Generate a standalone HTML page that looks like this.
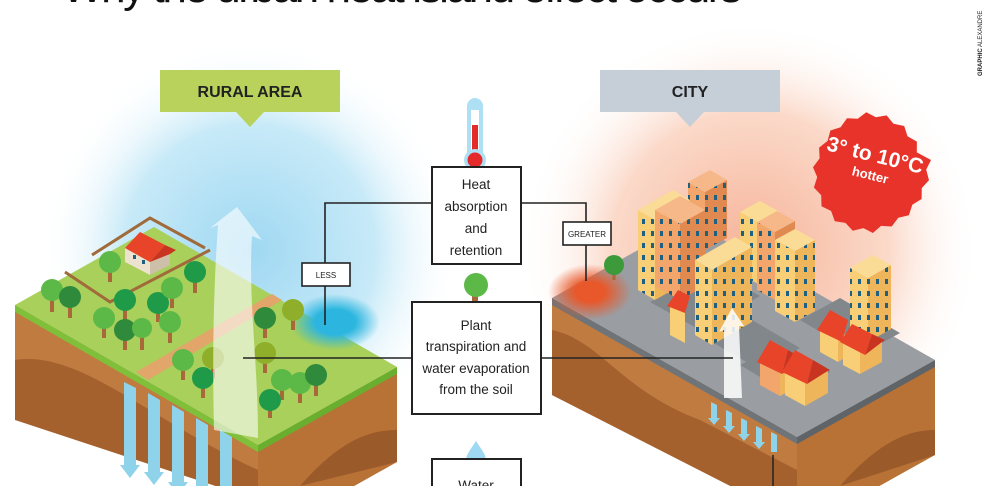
<!DOCTYPE html>
<html><head><meta charset="utf-8"><style>
html,body{margin:0;padding:0;background:#fff;width:994px;height:486px;overflow:hidden}
svg{display:block;overflow:hidden}
text{font-family:"Liberation Sans",sans-serif}
</style></head><body>
<svg width="994" height="486" viewBox="0 0 994 486" xmlns="http://www.w3.org/2000/svg">
<defs>
<clipPath id="frame"><rect x="0" y="0" width="994" height="486"/></clipPath>
<radialGradient id="gb" cx="250" cy="250" r="210" gradientUnits="userSpaceOnUse">
<stop offset="0" stop-color="#9fd8f2"/><stop offset="0.6" stop-color="#c8eaf8"/><stop offset="1" stop-color="#fff" stop-opacity="0"/></radialGradient>
<radialGradient id="go" cx="750" cy="250" r="230" gradientUnits="userSpaceOnUse">
<stop offset="0" stop-color="#f6b49a"/><stop offset="0.6" stop-color="#fbd9c9"/><stop offset="1" stop-color="#fff" stop-opacity="0"/></radialGradient>
<radialGradient id="pond">
<stop offset="0.45" stop-color="#2cb6df"/><stop offset="1" stop-color="#2cb6df" stop-opacity="0"/></radialGradient>
<radialGradient id="hot">
<stop offset="0.35" stop-color="#e8582a"/><stop offset="1" stop-color="#e8582a" stop-opacity="0"/></radialGradient>
<pattern id="win" width="9" height="12" patternUnits="userSpaceOnUse"><rect x="3" y="3" width="3" height="5" fill="#1f5f7f"/></pattern>
</defs>
<g clip-path="url(#frame)">
<text x="62" y="2" font-size="44" fill="#111" textLength="680">Why the urban heat island effect occurs</text>
<text transform="translate(982,76) rotate(-90)" font-size="6" fill="#222"><tspan font-weight="bold">GRAPHIC</tspan> ALEXANDRE</text>

<rect x="0" y="20" width="500" height="466" fill="url(#gb)"/>
<rect x="500" y="20" width="494" height="466" fill="url(#go)"/>

<rect x="160" y="70" width="180" height="42" fill="#b8d25c"/>
<polygon points="236,112 264,112 250,127" fill="#b8d25c"/>
<text x="250" y="97" font-size="16" font-weight="bold" text-anchor="middle" fill="#222">RURAL AREA</text>
<rect x="600" y="70" width="180" height="42" fill="#c6cfd8"/>
<polygon points="676,112 704,112 690,127" fill="#c6cfd8"/>
<text x="690" y="97" font-size="16" font-weight="bold" text-anchor="middle" fill="#222">CITY</text>

<!-- rural block -->
<polygon points="15,305 258,445 258,500 15,400" fill="#c07b40"/>
<path d="M15,360 C80,350 150,420 258,470 L258,500 15,420 Z" fill="#a4612e"/>
<polygon points="258,445 397,367 397,462 258,540" fill="#b87236"/>
<path d="M300,486 C340,440 370,430 397,430 L397,462 Z" fill="#9a5a2a"/>
<polygon points="15,305 258,445 258,452 15,312" fill="#7fbf3a"/>
<polygon points="258,445 397,367 397,374 258,452" fill="#6aae30"/>
<polygon points="15,305 154,227 397,367 258,445" fill="#a8d05a"/>
<polygon points="136,372 148,380 282,300 272,294" fill="#e2a56a"/>
<ellipse cx="335" cy="322" rx="45" ry="28" fill="url(#pond)"/>
<polyline points="92,255 150,218 205,248" fill="none" stroke="#a06a3a" stroke-width="3"/>
<polyline points="65,272 110,302 210,250" fill="none" stroke="#a06a3a" stroke-width="3"/>
<polygon points="125,248 150,262 150,275 125,262" fill="#ede2cf"/>
<polygon points="150,262 170,252 170,265 150,275" fill="#cdbfa8"/>
<polygon points="125,248 140,232 165,245 150,262" fill="#e8442a"/>
<polygon points="150,262 165,245 176,250 170,254" fill="#c83420"/>
<rect x="133" y="255" width="3" height="4" fill="#1f5f7f"/><rect x="142" y="260" width="3" height="4" fill="#1f5f7f"/>
<g stroke="#a8683a" stroke-width="4">
<line x1="52" y1="295" x2="52" y2="312"/><line x1="70" y1="300" x2="70" y2="318"/><line x1="110" y1="265" x2="110" y2="282"/>
<line x1="125" y1="302" x2="125" y2="320"/><line x1="158" y1="305" x2="158" y2="322"/><line x1="104" y1="320" x2="104" y2="338"/>
<line x1="125" y1="332" x2="125" y2="350"/><line x1="142" y1="332" x2="142" y2="350"/><line x1="170" y1="325" x2="170" y2="343"/>
<line x1="172" y1="290" x2="172" y2="308"/><line x1="195" y1="275" x2="195" y2="293"/><line x1="183" y1="362" x2="183" y2="380"/>
<line x1="203" y1="380" x2="203" y2="398"/><line x1="265" y1="320" x2="265" y2="338"/><line x1="293" y1="312" x2="293" y2="330"/>
<line x1="282" y1="382" x2="282" y2="400"/><line x1="300" y1="385" x2="300" y2="403"/><line x1="316" y1="378" x2="316" y2="396"/>
<line x1="270" y1="400" x2="270" y2="418"/><line x1="265" y1="355" x2="265" y2="373"/><line x1="213" y1="360" x2="213" y2="378"/>
</g>
<g>
<circle cx="52" cy="290" r="11" fill="#5cb947"/><circle cx="70" cy="297" r="11" fill="#2f8a3c"/><circle cx="110" cy="262" r="11" fill="#5cb947"/>
<circle cx="125" cy="300" r="11" fill="#1f9a48"/><circle cx="158" cy="303" r="11" fill="#1f9a48"/><circle cx="104" cy="318" r="11" fill="#5cb947"/>
<circle cx="125" cy="330" r="11" fill="#2f8a3c"/><circle cx="142" cy="328" r="10" fill="#5cb947"/><circle cx="170" cy="322" r="11" fill="#5cb947"/>
<circle cx="172" cy="288" r="11" fill="#5cb947"/><circle cx="195" cy="272" r="11" fill="#1f9a48"/><circle cx="183" cy="360" r="11" fill="#5cb947"/>
<circle cx="203" cy="378" r="11" fill="#1f9a48"/><circle cx="265" cy="318" r="11" fill="#2f8a3c"/><circle cx="293" cy="310" r="11" fill="#8fae2a"/>
<circle cx="282" cy="380" r="11" fill="#5cb947"/><circle cx="300" cy="383" r="11" fill="#5cb947"/><circle cx="316" cy="375" r="11" fill="#2f8a3c"/>
<circle cx="270" cy="400" r="11" fill="#1f9a48"/><circle cx="265" cy="353" r="11" fill="#8fae2a"/><circle cx="213" cy="358" r="11" fill="#8fae2a"/>
</g>
<g fill="#8fd3ea">
<polygon points="124,382 136,388 136,465 140,465 130,478 120,465 124,465"/>
<polygon points="148,393 160,400 160,472 164,472 154,485 144,472 148,472"/>
<polygon points="172,405 184,412 184,482 188,482 178,495 168,482 172,482"/>
<polygon points="196,418 208,425 208,490 200,500 196,490"/>
<polygon points="220,430 232,437 232,500 220,500"/>
</g>
<path d="M214,430 C212,350 214,280 218,225 L210,228 L237,207 L262,240 L252,236 C248,300 258,360 258,438 Z" fill="#fff" opacity="0.6"/>

<!-- city block -->
<polygon points="552,298 797,437 797,520 552,395" fill="#c07b40"/>
<path d="M552,330 C600,340 620,390 700,420 L797,470 L797,520 552,395 Z" fill="#a4612e"/>
<polygon points="797,437 935,360 935,455 797,532" fill="#b87236"/>
<path d="M840,486 C880,440 910,430 935,430 L935,455 Z" fill="#9a5a2a"/>
<polygon points="552,298 797,437 797,444 552,305" fill="#6f7479"/>
<polygon points="797,437 935,360 935,367 797,444" fill="#5f6469"/>
<polygon points="552,298 690,221 935,360 797,437" fill="#9a9ea3"/>
<ellipse cx="590" cy="292" rx="42" ry="28" fill="url(#hot)"/>
<line x1="614" y1="265" x2="614" y2="280" stroke="#a8683a" stroke-width="3"/>
<circle cx="614" cy="265" r="10" fill="#3c9a3a"/>
<polygon points="650,302 700,330 760,296 710,268" fill="#82878c"/>
<polygon points="700,335 760,370 800,348 740,313" fill="#82878c"/>
<polygon points="800,320 860,355 900,333 840,298" fill="#82878c"/>
<polygon points="740,365 790,395 830,372 780,345" fill="#82878c"/>
<g>
<polygon points="705,250 688,240 688,182 705,192" fill="#f2a66c"/><polygon points="705,250 727,238 727,180 705,192" fill="#e08a52"/><polygon points="688,182 705,192 727,180 710,170" fill="#f6b888"/>
<polygon points="705,250 688,240 688,182 705,192" fill="url(#win)"/><polygon points="705,250 727,238 727,180 705,192" fill="url(#win)"/>
<polygon points="655,300 638,290 638,210 655,220" fill="#f8cf77"/><polygon points="655,300 690,280 690,200 655,220" fill="#eeb55a"/><polygon points="638,210 655,220 690,200 673,190" fill="#fbdc97"/>
<polygon points="655,300 638,290 638,210 655,220" fill="url(#win)"/>
<polygon points="680,300 655,286 655,210 680,224" fill="#f2a66c"/><polygon points="680,300 705,286 705,210 680,224" fill="#e08a52"/><polygon points="655,210 680,224 705,210 680,196" fill="#f6b888"/>
<polygon points="680,300 655,286 655,210 680,224" fill="url(#win)"/><polygon points="680,300 705,286 705,210 680,224" fill="url(#win)"/>
<polygon points="760,285 740,274 740,212 760,223" fill="#f8cf77"/><polygon points="760,285 780,274 780,212 760,223" fill="#eeb55a"/><polygon points="740,212 760,223 780,212 760,201" fill="#fbdc97"/>
<polygon points="760,285 740,274 740,212 760,223" fill="url(#win)"/>
<polygon points="775,300 757,290 757,222 775,232" fill="#f2a66c"/><polygon points="775,300 795,289 795,221 775,232" fill="#e08a52"/><polygon points="757,222 775,232 795,221 777,211" fill="#f6b888"/>
<polygon points="775,300 757,290 757,222 775,232" fill="url(#win)"/>
<polygon points="795,322 775,311 775,240 795,251" fill="#f8cf77"/><polygon points="795,322 815,311 815,240 795,251" fill="#eeb55a"/><polygon points="775,240 795,251 815,240 795,229" fill="#fbdc97"/>
<polygon points="795,322 775,311 775,240 795,251" fill="url(#win)"/><polygon points="795,322 815,311 815,240 795,251" fill="url(#win)"/>
<polygon points="868,342 850,332 850,268 868,278" fill="#f8cf77"/><polygon points="868,342 891,329 891,265 868,278" fill="#eeb55a"/><polygon points="850,268 868,278 891,265 873,255" fill="#fbdc97"/>
<polygon points="868,342 850,332 850,268 868,278" fill="url(#win)"/><polygon points="868,342 891,329 891,265 868,278" fill="url(#win)"/>
<polygon points="670,335 685,343 685,312 670,304" fill="#f8cf77"/><polygon points="667,306 678,290 690,296 685,313" fill="#e8442a"/>
<polygon points="712,345 695,335 695,260 712,270" fill="#f8cf77"/><polygon points="712,345 752,322 752,247 712,270" fill="#eeb55a"/><polygon points="695,260 712,270 752,247 735,237" fill="#fbdc97"/>
<polygon points="712,345 695,335 695,260 712,270" fill="url(#win)"/><polygon points="712,345 752,322 752,247 712,270" fill="url(#win)"/>
<polygon points="760,385 780,396 780,372 760,360" fill="#f2a66c"/><polygon points="780,396 800,385 800,360 780,372" fill="#eeb55a"/>
<polygon points="757,362 770,340 788,350 782,374" fill="#e8442a"/><polygon points="782,374 788,350 805,360 800,362" fill="#c83420"/>
<polygon points="785,395 805,406 805,382 785,370" fill="#f8cf77"/><polygon points="805,406 828,393 828,368 805,382" fill="#eeb55a"/>
<polygon points="782,372 795,350 813,360 807,384" fill="#e8442a"/><polygon points="807,384 813,360 830,370 826,372" fill="#c83420"/>
<polygon points="820,352 838,362 838,338 820,328" fill="#f8cf77"/><polygon points="838,362 855,352 855,328 838,338" fill="#eeb55a"/>
<polygon points="817,330 830,310 848,320 842,342" fill="#e8442a"/>
<polygon points="843,365 860,374 860,350 843,340" fill="#f8cf77"/><polygon points="860,374 882,362 882,338 860,350" fill="#eeb55a"/>
<polygon points="840,342 852,324 872,334 865,355" fill="#e8442a"/><polygon points="865,355 872,334 885,340 882,342" fill="#c83420"/>
</g>
<path d="M724,398 L724,330 L719,332 L732,308 L744,326 L739,326 L742,398 Z" fill="#fff" opacity="0.85"/>
<g fill="#8fd3ea">
<polygon points="711,402 717,405 717,418 720,418 714,425 708,418 711,418"/>
<polygon points="726,410 732,413 732,426 735,426 729,433 723,426 726,426"/>
<polygon points="741,418 747,421 747,434 750,434 744,441 738,434 741,434"/>
<polygon points="756,426 762,429 762,442 765,442 759,449 753,442 756,442"/>
<polygon points="771,432 777,435 777,452 771,452"/>
</g>
<line x1="773" y1="455" x2="773" y2="486" stroke="#222" stroke-width="1.5"/>

<polygon fill="#e8332a" points="931.0,160.0 926.2,169.6 929.0,180.2 921.8,188.0 921.6,199.0 912.3,204.8 908.9,215.2 898.3,217.8 891.7,226.5 881.0,225.9 872.9,233.0 863.4,228.1 852.8,230.7 845.4,222.9 834.8,221.2 831.1,211.0 821.5,206.2 821.2,195.3 813.9,187.5 817.2,177.1 813.0,167.3 819.6,158.4 819.1,147.6 827.6,140.9 830.4,130.5 840.6,127.2 847.0,118.3 857.7,118.8 866.3,112.3 875.8,117.3 886.6,115.4 893.5,123.8 904.2,126.0 907.5,136.3 916.9,141.6 916.8,152.4"/>
<g transform="translate(874,160) rotate(14)" fill="#fff" text-anchor="middle">
<text x="0" y="2" font-size="21" font-weight="bold">3° to 10°C</text>
<text x="0" y="20" font-size="13" font-weight="bold">hotter</text>
</g>

<g fill="none" stroke="#222" stroke-width="1.6">
<polyline points="432,203 325,203 325,325"/>
<polyline points="521,203 586,203 586,281"/>
<line x1="243" y1="358" x2="412" y2="358"/>
<line x1="541" y1="358" x2="733" y2="358"/>
</g>
<rect x="302" y="263" width="48" height="23" fill="#fff" stroke="#222" stroke-width="1.6"/>
<text x="326" y="278" font-size="8" text-anchor="middle" fill="#222">LESS</text>
<rect x="563" y="222" width="48" height="23" fill="#fff" stroke="#222" stroke-width="1.6"/>
<text x="587" y="237" font-size="8" text-anchor="middle" fill="#222">GREATER</text>

<rect x="467" y="98" width="16" height="62" rx="8" fill="#aee0f5"/>
<rect x="471" y="110" width="8" height="46" fill="#fff"/>
<rect x="472" y="125" width="6" height="35" fill="#e52a2a"/>
<circle cx="475" cy="160" r="11" fill="#aee0f5"/><circle cx="475" cy="160" r="7.5" fill="#e52a2a"/>
<rect x="432" y="167" width="89" height="97" fill="#fff" stroke="#222" stroke-width="2"/>
<g font-size="13.5" text-anchor="middle" fill="#222">
<text x="476" y="189">Heat</text><text x="476" y="211">absorption</text><text x="476" y="233">and</text><text x="476" y="255">retention</text>
</g>
<rect x="472" y="288" width="6" height="14" fill="#a8683a"/>
<circle cx="476" cy="285" r="12" fill="#5cb947"/>
<rect x="412" y="302" width="129" height="112" fill="#fff" stroke="#222" stroke-width="2"/>
<g font-size="13.5" text-anchor="middle" fill="#222">
<text x="476" y="330">Plant</text><text x="476" y="351">transpiration and</text><text x="476" y="373">water evaporation</text><text x="476" y="394">from the soil</text>
</g>
<path d="M476,441 C470,450 466,455 466,460 A10,10 0 0 0 486,460 C486,455 482,450 476,441 Z" fill="#9fd8f2"/>
<rect x="432" y="459" width="89" height="40" fill="#fff" stroke="#222" stroke-width="2"/>
<text x="476" y="490" font-size="13.5" text-anchor="middle" fill="#222">Water</text>
</g>
</svg>
</body></html>
